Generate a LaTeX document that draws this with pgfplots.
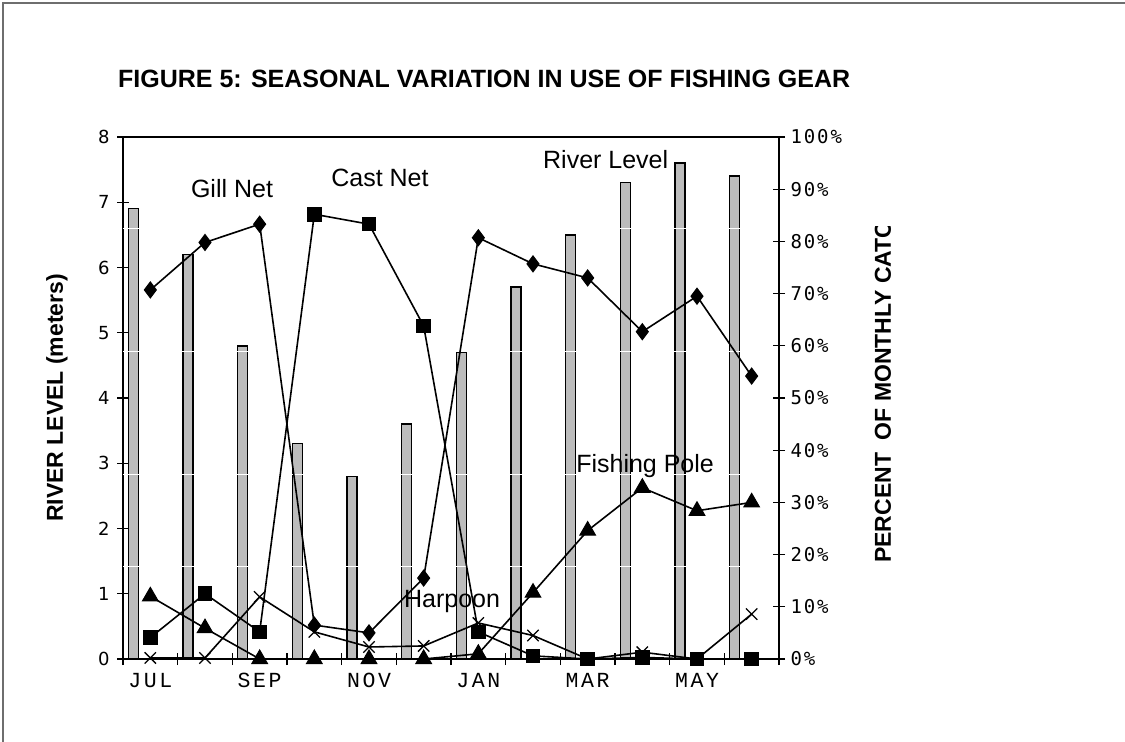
\documentclass[border=0pt]{standalone}
\usepackage{fontspec}
\setmainfont{Liberation Sans}
\newfontfamily\monoX{Liberation Mono}[LetterSpace=12]
\newfontfamily\monoY{DejaVu Sans Mono}[LetterSpace=10]
\newfontfamily\dejavu{DejaVu Sans}
\usepackage{pgfplots}
\pgfplotsset{compat=1.18}
\definecolor{barfill}{RGB}{188,188,188}
\definecolor{framegray}{RGB}{110,110,110}

\pgfplotstableread{
x  river
0  6.9
1  6.2
2  4.8
3  3.3
4  2.8
5  3.6
6  4.7
7  5.7
8  6.5
9  7.3
10 7.6
11 7.4
}\riverdata

\pgfplotstableread{
x  gill  cast  pole  harpoon
0  70.7  4.1   12.0  0.2
1  79.8  12.5  5.9   0.2
2  83.3  5.2   0.0   11.9
3  6.5   85.2  0.0   5.2
4  5.0   83.3  0.0   2.3
5  15.5  63.8  0.0   2.5
6  80.7  5.2   1.0   6.9
7  75.7  0.6   12.7  4.5
8  73.0  0.0   24.6  0.0
9  62.7  0.3   32.8  1.3
10 69.5  0.0   28.4  0.0
11 54.2  0.0   30.0  8.6
}\geardata

\begin{document}
\begin{tikzpicture}
\path[use as bounding box] (-123bp,-83bp) rectangle (1002bp,659bp);
\draw[framegray, line width=1.2bp] (-120bp,-90bp) -- (-120bp,656bp) -- (1010bp,656bp);

\begin{axis}[
  at={(0,0)}, anchor=south west,
  scale only axis, width=656bp, height=522bp,
  xmin=-0.5, xmax=11.5, ymin=0, ymax=8,
  axis on top,
  axis line style={line width=1.6bp, black},
  every tick/.style={black, line width=1.1bp},
  tick align=center, major tick length=12bp,
  xtick pos=bottom, ytick pos=left,
  xtick={-0.5,0.5,...,11.5}, xticklabels={},
  extra x ticks={0,2,4,6,8,10},
  extra x tick labels={JUL,SEP,NOV,JAN,MAR,MAY},
  extra x tick style={major tick length=0pt,
    tick label style={font=\monoX\fontsize{21.5bp}{24bp}\selectfont, yshift=-11bp}},
  ytick={0,1,...,8},
  yticklabels={0,1,2,3,4,5,6,7,8},
  yticklabel style={font=\dejavu\fontsize{18bp}{20bp}\selectfont, xshift=-4bp},
  extra y ticks={6.605,4.72,2.835,1.425},
  extra y tick labels={},
  extra y tick style={grid=major, major grid style={white, line width=1bp}, major tick length=0pt},
]
\addplot[ybar, bar width=10bp, bar shift=-17bp, fill=barfill, draw=black, line width=1.4bp]
  table[x=x, y=river] {\riverdata};
\end{axis}

\begin{axis}[
  at={(0,0)}, anchor=south west,
  scale only axis, width=656bp, height=522bp,
  xmin=-0.5, xmax=11.5, ymin=0, ymax=100,
  axis x line=none,
  axis y line*=right,
  axis line style={line width=1.6bp, black, -},
  every tick/.style={black, line width=1.1bp},
  tick align=center, major tick length=12bp,
  ytick={0,10,...,100},
  yticklabels={0\%,10\%,20\%,30\%,40\%,50\%,60\%,70\%,80\%,90\%,100\%},
  yticklabel style={font=\monoY\fontsize{19bp}{22bp}\selectfont, xshift=2bp},
  clip=false,
]
\addplot[black, line width=1.6bp, mark=diamond*, mark size=8bp, mark options={fill=black, line width=1bp}]
  table[x=x, y=gill] {\geardata};
\addplot[black, line width=1.6bp, mark=square*, mark size=6.8bp, mark options={fill=black, line width=1bp}]
  table[x=x, y=cast] {\geardata};
\addplot[black, line width=1.6bp, mark=triangle*, mark size=9bp, mark options={fill=black, line width=1bp}]
  table[x=x, y=pole] {\geardata};
\addplot[black, line width=1.6bp, mark=x, mark size=8bp, mark options={line width=1.3bp}]
  table[x=x, y=harpoon] {\geardata};

\node[font=\fontsize{25bp}{30bp}\selectfont] at (axis cs:1.494,90.2) {Gill Net};
\node[font=\fontsize{25bp}{30bp}\selectfont] at (axis cs:4.2,92.1) {Cast Net};
\node[font=\fontsize{25bp}{30bp}\selectfont] at (axis cs:8.33,95.6) {River Level};
\node[font=\fontsize{25bp}{30bp}\selectfont] at (axis cs:9.05,37.0) {Fishing Pole};
\node[font=\fontsize{25bp}{30bp}\selectfont] at (axis cs:5.52,11.0) {Harpoon};
\end{axis}

\node[anchor=base west, inner sep=0pt, font=\bfseries\fontsize{25bp}{30bp}\selectfont] at (-5bp,571bp)
  {FIGURE 5: SEASONAL VARIATION IN USE OF FISHING GEAR};
\node[rotate=90, inner sep=0pt, font=\bfseries\fontsize{23bp}{28bp}\selectfont] at (-66bp,261bp)
  {RIVER LEVEL (meters)};
\begin{scope}
\clip (700bp,-83bp) rectangle (830bp,432bp);
\node[rotate=90, anchor=west, inner sep=0pt, font=\bfseries\fontsize{23bp}{28bp}\selectfont] at (760bp,96bp)
  {PERCENT\ \ OF MONTHLY CATCH};
\end{scope}
\end{tikzpicture}
\end{document}
